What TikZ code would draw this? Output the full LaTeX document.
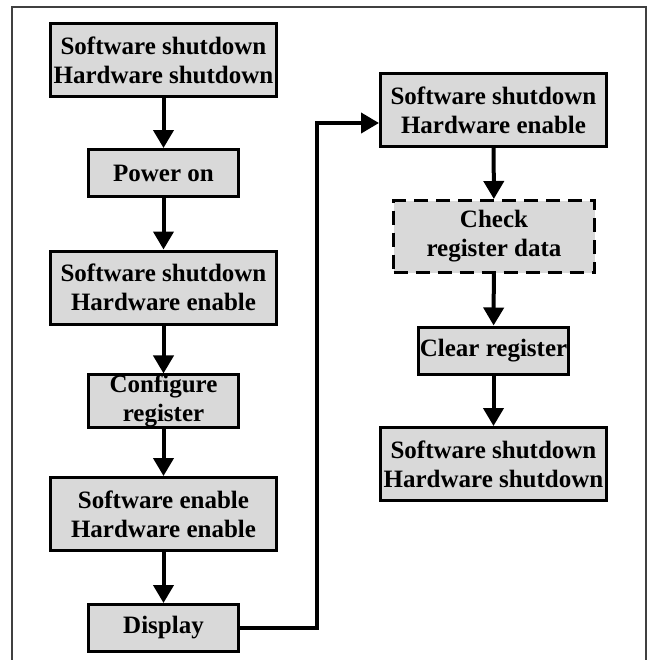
\documentclass[tikz,border=0pt]{standalone}
\usepackage{fontspec}
\setmainfont{Liberation Serif}
\usepackage{tikz}
\usetikzlibrary{arrows.meta}
\definecolor{boxgray}{HTML}{D9D9D9}

\begin{document}
\begin{tikzpicture}[x=0.5pt,y=-0.5pt]
\tikzstyle{box}=[draw,fill=boxgray,line width=1.5pt,inner sep=0pt,align=center,font=\bfseries\fontsize{12.5}{14.5}\selectfont]
\tikzstyle{bigbox}=[box,minimum width=113pt,minimum height=36.5pt]
\tikzstyle{smallbox}=[box,minimum width=75pt,minimum height=23.5pt]
\tikzstyle{flow}=[line width=2pt,-{Triangle[width=10pt,length=9pt]}]
\useasboundingbox (0,0) rectangle (648,660);
\draw[line width=0.65pt,black!75] (12,670) -- (12,7) -- (646,7) -- (646,670);
\foreach \name/\point/\txt in {
	1/{163.5,60}/{Software shutdown\\Hardware shutdown},
	3/{163.5,287.5}/{Software shutdown\\Hardware enable},
	5/{163.5,514}/{Software enable\\Hardware enable},
	7/{493.5,110}/{Software shutdown\\Hardware enable},
	10/{493.5,464}/{Software shutdown\\Hardware shutdown}}
	\node[bigbox] (\name) at (\point) {\txt};
\foreach \name/\point/\txt in {
	2/{163.5,173}/{Power on},
	4/{163.5,401}/{Configure\\register},
	6/{163.5,628}/{Display},
	9/{493.5,350.5}/{Clear register}}
	\node[smallbox] (\name) at (\point) {\txt};
\node[box,dash pattern=on 7pt off 4pt,minimum width=100.5pt,minimum height=36pt] (8) at (494,236.5) {Check\\register data};
\coordinate (bend) at (316.5,123);
\foreach \a/\b in {1/2,2/3,3/4,4/5,5/6,7/8,8/9,9/10}
	\draw[flow] (\a) -- (\b);
\draw[flow] (6.east) -| (bend) -- (bend -| 7.west);
\end{tikzpicture}
\end{document}
